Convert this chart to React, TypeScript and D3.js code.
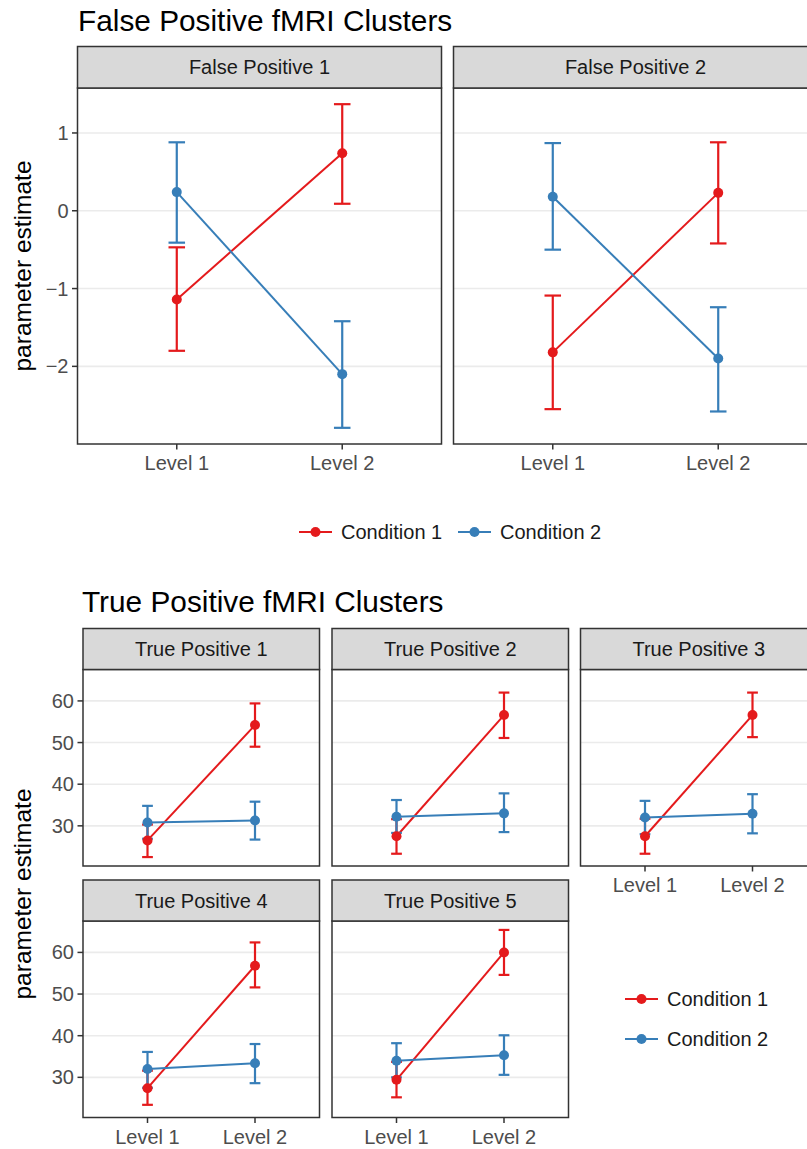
import React from "react";
import * as d3 from "d3";

const levels = ["Level 1", "Level 2"];
const conditions = ["Condition 1", "Condition 2"];
const colors = ["#E41A1C", "#377EB8"];

const fpPanels = ["False Positive 1", "False Positive 2"];
const fpCond1Mean = [[-1.14, 0.74], [-1.82, 0.23]];
const fpCond1Lo = [[-1.80, 0.09], [-2.55, -0.42]];
const fpCond1Hi = [[-0.47, 1.37], [-1.09, 0.88]];
const fpCond2Mean = [[0.24, -2.10], [0.18, -1.90]];
const fpCond2Lo = [[-0.41, -2.79], [-0.50, -2.58]];
const fpCond2Hi = [[0.88, -1.42], [0.87, -1.24]];
const fpTicks = [-2, -1, 0, 1];

const tpPanels = ["True Positive 1", "True Positive 2", "True Positive 3", "True Positive 4", "True Positive 5"];
const tpCond1Mean = [[26.5, 54.2], [27.5, 56.6], [27.5, 56.6], [27.4, 56.8], [29.4, 60.0]];
const tpCond1Lo = [[22.5, 49.0], [23.3, 51.1], [23.3, 51.3], [23.4, 51.6], [25.2, 54.6]];
const tpCond1Hi = [[30.3, 59.4], [31.6, 62.0], [31.7, 62.0], [31.6, 62.4], [33.7, 65.4]];
const tpCond2Mean = [[30.8, 31.3], [32.2, 33.0], [32.0, 32.9], [32.0, 33.4], [34.0, 35.3]];
const tpCond2Lo = [[26.9, 26.7], [28.3, 28.5], [28.0, 28.2], [27.5, 28.6], [30.0, 30.6]];
const tpCond2Hi = [[34.8, 35.8], [36.2, 37.8], [36.0, 37.6], [36.1, 38.0], [38.2, 40.1]];
const tpTicks = [30, 40, 50, 60];

const FONT = "'Liberation Sans', Arial, sans-serif";
const W = 807;
const H = 1149;
const FS = 20;

type Series = { mean: number[]; lo: number[]; hi: number[] };

function expandDomain(vals: number[]): [number, number] {
  const [mn, mx] = d3.extent(vals) as [number, number];
  const r = mx - mn;
  return [mn - r * 0.05, mx + r * 0.05];
}

function Panel(props: {
  x0: number; width: number; stripTop: number; stripH: number; plotH: number;
  title: string; series: Series[]; y: d3.ScaleLinear<number, number>; ticks: number[];
  showY: boolean; showX: boolean;
}) {
  const { x0, width, stripTop, stripH, plotH, title, series, ticks, showY, showX } = props;
  const top = stripTop + stripH;
  const bottom = top + plotH;
  const y = props.y.copy().range([bottom, top]);
  const x = d3.scalePoint<string>().domain(levels).range([x0, x0 + width]).padding(0.6);
  const step = x.step();
  const capHalf = step * 0.05;
  const line = d3.line<number>().x((_, i) => x(levels[i]) as number).y((v) => y(v));
  return (
    <g>
      <rect x={x0} y={top} width={width} height={plotH} fill="#fff" />
      {ticks.map((t) => (
        <line key={t} x1={x0} x2={x0 + width} y1={y(t)} y2={y(t)} stroke="#EBEBEB" strokeWidth={1.6} />
      ))}
      {series.map((s, ci) => (
        <path key={"l" + ci} d={line(s.mean) || ""} fill="none" stroke={colors[ci]} strokeWidth={2} />
      ))}
      {series.map((s, ci) => (
        <g key={"e" + ci} stroke={colors[ci]} strokeWidth={2.2} fill="none">
          {levels.map((lv, i) => {
            const cx = x(lv) as number;
            return (
              <g key={lv}>
                <line x1={cx} x2={cx} y1={y(s.lo[i])} y2={y(s.hi[i])} />
                <line x1={cx - capHalf} x2={cx + capHalf} y1={y(s.lo[i])} y2={y(s.lo[i])} />
                <line x1={cx - capHalf} x2={cx + capHalf} y1={y(s.hi[i])} y2={y(s.hi[i])} />
              </g>
            );
          })}
        </g>
      ))}
      {series.map((s, ci) => (
        <g key={"p" + ci} fill={colors[ci]}>
          {levels.map((lv, i) => (
            <circle key={lv} cx={x(lv) as number} cy={y(s.mean[i])} r={5} />
          ))}
        </g>
      ))}
      <rect x={x0} y={top} width={width} height={plotH} fill="none" stroke="#333333" strokeWidth={1.5} />
      <rect x={x0} y={stripTop} width={width} height={stripH} fill="#D9D9D9" stroke="#333333" strokeWidth={1.5} />
      <text x={x0 + width / 2} y={stripTop + stripH / 2 + 7} textAnchor="middle" fontSize={FS} fill="#1A1A1A" fontFamily={FONT}>
        {title}
      </text>
      {showY && ticks.map((t) => (
        <g key={"yt" + t}>
          <line x1={x0 - 5.5} x2={x0} y1={y(t)} y2={y(t)} stroke="#333333" strokeWidth={1.5} />
          <text x={x0 - 9} y={y(t) + 7} textAnchor="end" fontSize={FS} fill="#4D4D4D" fontFamily={FONT}>
            {t < 0 ? "\u2212" + Math.abs(t) : String(t)}
          </text>
        </g>
      ))}
      {showX && levels.map((lv) => (
        <g key={"xt" + lv}>
          <line x1={x(lv) as number} x2={x(lv) as number} y1={bottom} y2={bottom + 5.5} stroke="#333333" strokeWidth={1.5} />
          <text x={x(lv) as number} y={bottom + 26} textAnchor="middle" fontSize={FS} fill="#4D4D4D" fontFamily={FONT}>
            {lv}
          </text>
        </g>
      ))}
    </g>
  );
}

function LegendItem(props: { x: number; y: number; ci: number }) {
  const { x, y, ci } = props;
  return (
    <g>
      <line x1={x} x2={x + 33} y1={y} y2={y} stroke={colors[ci]} strokeWidth={2} />
      <circle cx={x + 16.5} cy={y} r={5} fill={colors[ci]} />
      <text x={x + 42} y={y + 7} fontSize={FS} fill="#1A1A1A" fontFamily={FONT}>
        {conditions[ci]}
      </text>
    </g>
  );
}

export default function App() {
  const fpSeries: Series[][] = fpPanels.map((_, p) => [
    { mean: fpCond1Mean[p], lo: fpCond1Lo[p], hi: fpCond1Hi[p] },
    { mean: fpCond2Mean[p], lo: fpCond2Lo[p], hi: fpCond2Hi[p] },
  ]);
  const tpSeries: Series[][] = tpPanels.map((_, p) => [
    { mean: tpCond1Mean[p], lo: tpCond1Lo[p], hi: tpCond1Hi[p] },
    { mean: tpCond2Mean[p], lo: tpCond2Lo[p], hi: tpCond2Hi[p] },
  ]);
  const fpY = d3.scaleLinear().domain(expandDomain([...fpCond1Lo.flat(), ...fpCond1Hi.flat(), ...fpCond2Lo.flat(), ...fpCond2Hi.flat()]));
  const tpY = d3.scaleLinear().domain(expandDomain([...tpCond1Lo.flat(), ...tpCond1Hi.flat(), ...tpCond2Lo.flat(), ...tpCond2Hi.flat()]));

  const fpX = [77.5, 453.5];
  const fpW = 364;
  const tpX = [83, 332, 580.5];
  const tpW = 236.5;
  const tpRowTop = [628.5, 880];

  return (
    <svg width={W} height={H} style={{ position: "absolute", left: 0, top: 0, background: "#fff" }}>
      <rect x={0} y={0} width={W} height={H} fill="#fff" />
      <text x={78} y={31} fontSize={29.8} fill="#000" fontFamily={FONT}>False Positive fMRI Clusters</text>
      {fpPanels.map((t, p) => (
        <Panel key={t} x0={fpX[p]} width={fpW} stripTop={46.5} stripH={41.5} plotH={356}
          title={t} series={fpSeries[p]} y={fpY} ticks={fpTicks} showY={p === 0} showX={true} />
      ))}
      <text transform={`translate(31,266) rotate(-90)`} textAnchor="middle" fontSize={24.5} fill="#000" fontFamily={FONT}>
        parameter estimate
      </text>
      <LegendItem x={299} y={532} ci={0} />
      <LegendItem x={458} y={532} ci={1} />

      <text x={82} y={612} fontSize={29.8} fill="#000" fontFamily={FONT}>True Positive fMRI Clusters</text>
      {tpPanels.map((t, p) => {
        const row = Math.floor(p / 3);
        const col = p % 3;
        return (
          <Panel key={t} x0={tpX[col]} width={tpW} stripTop={tpRowTop[row]} stripH={41} plotH={196.5}
            title={t} series={tpSeries[p]} y={tpY} ticks={tpTicks} showY={col === 0} showX={row === 1 || col === 2} />
        );
      })}
      <text transform={`translate(31,894) rotate(-90)`} textAnchor="middle" fontSize={24.5} fill="#000" fontFamily={FONT}>
        parameter estimate
      </text>
      <LegendItem x={625} y={999} ci={0} />
      <LegendItem x={625} y={1039} ci={1} />
    </svg>
  );
}
